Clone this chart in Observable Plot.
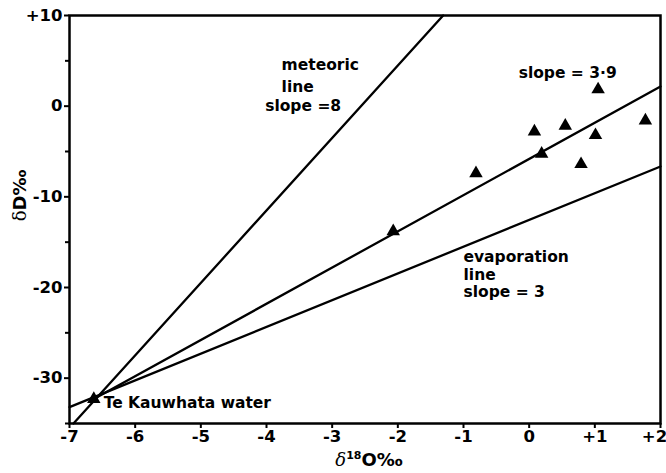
<!DOCTYPE html>
<html>
<head>
<meta charset="utf-8">
<script src="https://cdn.jsdelivr.net/npm/d3@7"></script>
<script src="https://cdn.jsdelivr.net/npm/@observablehq/plot@0.6"></script>
<style>
  html, body { margin: 0; padding: 0; background: #fff; }
  svg { display: block; }
</style>
</head>
<body>
<div id="chart"></div>
<script>
// Sample points (δ18O ‰, δD ‰)
const sampleX = [1.05, 1.77, 0.08, 0.55, 1.01, 0.19, 0.79, -0.81, -2.07];
const sampleY = [1.84, -1.58, -2.8, -2.17, -3.2, -5.26, -6.4, -7.41, -13.8];
// Te Kauwhata water
const waterX = [-6.63];
const waterY = [-32.3];
// Lines (endpoints)
const meteoricX = [-6.94, -1.31];
const meteoricY = [-35, 10];
const slope39X = [-6.63, 2];
const slope39Y = [-32.3, 2.17];
const evapX = [-7, 2];
const evapY = [-33.2, -6.65];
// Tick values
const xTicks = [-7, -6, -5, -4, -3, -2, -1, 0, 1, 2];
const yTicks = [10, 0, -10, -20, -30];
const yMinor = [5, -5, -15, -25, -35];
// Annotation labels
const labelText = ["meteoric", "line", "slope =8", "slope = 3·9", "evaporation", "line", "slope = 3", "Te Kauwhata water"];
const labelX = [-3.77, -3.77, -4.02, -0.16, -1.0, -1.0, -1.0, -6.48];
const labelY = [4.49, 2.06, -0.03, 3.6, -16.68, -18.67, -20.54, -32.78];

const fmt = d => d > 0 ? "+" + d : d < 0 ? "-" + (-d) : "0";
const zip = (xs, ys) => xs.map((x, i) => ({x, y: ys[i]}));
const FONT = "'DejaVu Sans', sans-serif";

const chart = Plot.plot({
  width: 666,
  height: 473,
  marginLeft: 69,
  marginRight: 6,
  marginTop: 15,
  marginBottom: 50,
  style: {fontFamily: FONT, fontSize: "16px", fontWeight: "bold", color: "#000", background: "#fff"},
  x: {domain: [-7, 2]},
  y: {domain: [-35, 10]},
  marks: [
    Plot.axisX({ticks: xTicks, tickFormat: fmt, tickSize: 5, tickPadding: 2, strokeWidth: 2, label: "δ18O‰", labelAnchor: "center", labelArrow: "none", labelOffset: 42}),
    Plot.axisY({ticks: yTicks, tickFormat: fmt, tickSize: 5, tickPadding: 2, strokeWidth: 2, label: "δD‰", labelAnchor: "center", labelArrow: "none", labelOffset: 56}),
    Plot.axisY({ticks: yMinor, tickFormat: () => "", tickSize: 4, strokeWidth: 2, label: null}),
    Plot.line(zip(meteoricX, meteoricY), {x: "x", y: "y", stroke: "#000", strokeWidth: 2.3}),
    Plot.line(zip(slope39X, slope39Y), {x: "x", y: "y", stroke: "#000", strokeWidth: 2.3}),
    Plot.line(zip(evapX, evapY), {x: "x", y: "y", stroke: "#000", strokeWidth: 2.3}),
    Plot.dot(zip(sampleX, sampleY), {x: "x", y: "y", symbol: "triangle", r: 5, fill: "#000", stroke: "none"}),
    Plot.dot(zip(waterX, waterY), {x: "x", y: "y", symbol: "triangle", r: 5, fill: "#000", stroke: "none"}),
    Plot.text(labelText.map((t, i) => ({t, x: labelX[i], y: labelY[i]})), {x: "x", y: "y", text: "t", textAnchor: "start", lineAnchor: "middle", fontSize: 15.5, fontWeight: "bold", fill: "#000"}),
    Plot.frame({stroke: "#000", strokeWidth: 2.5})
  ]
});

const sel = d3.select(chart);
// tick labels
sel.selectAll('[aria-label="x-axis tick label"], [aria-label="y-axis tick label"]')
  .style("font-size", "16.5px").style("font-weight", "bold");
// superscript on x label
const xlg = sel.select('[aria-label="x-axis label"]');
const xl = xlg.select("text");
if (!xl.empty()) {
  xlg.style("font-size", "18px");
  xl.style("font-size", "18px").attr("dx", 4);
  xl.text(null);
  xl.append("tspan").attr("font-style", "italic").attr("font-family", "'DejaVu Serif', serif").attr("font-weight", "normal").text("δ");
  xl.append("tspan").style("font-size", "11px").attr("dy", -7).text("18");
  xl.append("tspan").attr("dy", 7).text("O‰");
}
const ylg = sel.select('[aria-label="y-axis label"]');
const yl = ylg.select("text");
if (!yl.empty()) {
  ylg.style("font-size", "18px");
  yl.style("font-size", "18px").attr("dx", 24);
  yl.text(null);
  yl.append("tspan").attr("font-family", "'DejaVu Serif', serif").attr("font-weight", "normal").text("δ");
  yl.append("tspan").text("D‰");
}
// keep the last x tick label inside the picture
const xt = sel.selectAll('[aria-label="x-axis tick label"] text');
xt.filter((d, i, n) => i === n.length - 1).attr("dx", -6);
document.getElementById("chart").appendChild(chart);
</script>
</body>
</html>
